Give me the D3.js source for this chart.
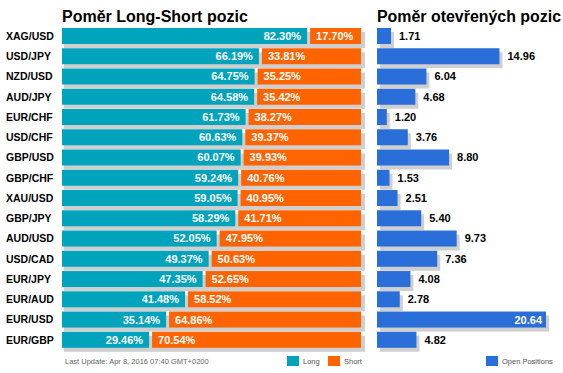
<!DOCTYPE html>
<html><head><meta charset="utf-8">
<script src="https://cdn.jsdelivr.net/npm/d3@7"></script>
<style>
html,body{margin:0;padding:0;background:#fff;}
text{font-family:"Liberation Sans",Arial,sans-serif;}
</style></head>
<body>
<svg id="c" width="563" height="373"></svg>
<script>
const pairs = ["XAG/USD","USD/JPY","NZD/USD","AUD/JPY","EUR/CHF","USD/CHF","GBP/USD","GBP/CHF","XAU/USD","GBP/JPY","AUD/USD","USD/CAD","EUR/JPY","EUR/AUD","EUR/USD","EUR/GBP"];
const longPct = [82.30,66.19,64.75,64.58,61.73,60.63,60.07,59.24,59.05,58.29,52.05,49.37,47.35,41.48,35.14,29.46];
const shortPct = [17.70,33.81,35.25,35.42,38.27,39.37,39.93,40.76,40.95,41.71,47.95,50.63,52.65,58.52,64.86,70.54];
const openPos = [1.71,14.96,6.04,4.68,1.20,3.76,8.80,1.53,2.51,5.40,9.73,7.36,4.08,2.78,20.64,4.82];
const title1 = "Poměr Long-Short pozic";
const title2 = "Poměr otevřených pozic";
const footer = "Last Update: Apr 8, 2016 07:40 GMT+0200";
const legendLS = ["Long","Short"];
const legendOP = "Open Positions";

const C = {long:"#00a3bc", short:"#ff6400", open:"#2a6fd9", shadow:"#cfcfcf"};
const svg = d3.select("#c");

const y = d3.scaleBand().domain(pairs).range([28, 348]).paddingInner(0.2).paddingOuter(0).align(0);
const bh = 16;
const x1 = d3.scaleLinear().domain([0,100]).range([62,361]);
const x2 = d3.scaleLinear().domain([0,20.64]).range([377,546]);

// titles
svg.append("text").attr("x",62).attr("y",22).attr("font-size",16).attr("font-weight","bold").attr("fill","#000").text(title1);
svg.append("text").attr("x",377).attr("y",22).attr("font-size",16).attr("font-weight","bold").attr("fill","#000")
  .attr("textLength",184).attr("lengthAdjust","spacingAndGlyphs").text(title2);

const rows = pairs.map((p,i)=>({p, l:longPct[i], s:shortPct[i], o:openPos[i]}));

// category labels
svg.selectAll(".cat").data(rows).join("text")
  .attr("x",6).attr("y",d=>y(d.p)+bh/2).attr("dy","0.36em")
  .attr("font-size",10.5).attr("font-weight","bold").attr("fill","#000").text(d=>d.p);

// left shadows
svg.selectAll(".sh1").data(rows).join("rect")
  .attr("x",x1(0)+2).attr("y",d=>y(d.p)+4).attr("width",x1(100)-x1(0)+2).attr("height",bh).attr("fill",C.shadow);
// long bars
svg.selectAll(".lb").data(rows).join("rect")
  .attr("x",x1(0)).attr("y",d=>y(d.p)).attr("width",d=>x1(d.l)-x1(0)-1).attr("height",bh).attr("fill",C.long);
// short bars
svg.selectAll(".sb").data(rows).join("rect")
  .attr("x",d=>x1(d.l)+2).attr("y",d=>y(d.p)).attr("width",d=>x1(100)-x1(d.l)-2).attr("height",bh).attr("fill",C.short);
// long labels
svg.selectAll(".ll").data(rows).join("text")
  .attr("x",d=>x1(d.l)-7).attr("y",d=>y(d.p)+bh/2).attr("dy","0.36em").attr("text-anchor","end")
  .attr("font-size",11).attr("font-weight","bold").attr("fill","#fff").text(d=>d.l.toFixed(2)+"%");
svg.selectAll(".sl").data(rows).join("text")
  .attr("x",d=>x1(d.l)+8).attr("y",d=>y(d.p)+bh/2).attr("dy","0.36em")
  .attr("font-size",11).attr("font-weight","bold").attr("fill","#fff").text(d=>d.s.toFixed(2)+"%");

// right chart
svg.selectAll(".sh2").data(rows).join("rect")
  .attr("x",x2(0)+3).attr("y",d=>y(d.p)+4).attr("width",d=>x2(d.o)-x2(0)).attr("height",bh).attr("fill",C.shadow);
svg.selectAll(".ob").data(rows).join("rect")
  .attr("x",x2(0)).attr("y",d=>y(d.p)).attr("width",d=>x2(d.o)-x2(0)).attr("height",bh).attr("fill",C.open);
svg.selectAll(".ol").data(rows).join("text")
  .each(function(d){
    const inside = x2(d.o) + 40 > 563;
    d3.select(this).attr("x", inside ? x2(d.o)-4 : x2(d.o)+8)
      .attr("text-anchor", inside ? "end":"start")
      .attr("fill", inside ? "#fff" : "#000");
  })
  .attr("y",d=>y(d.p)+bh/2).attr("dy","0.36em")
  .attr("font-size",11).attr("font-weight","bold").text(d=>d.o.toFixed(2));

// footer
svg.append("text").attr("x",65).attr("y",361).attr("dy","0.36em").attr("font-size",7.5).attr("fill","#666").text(footer);
const lg = [{t:legendLS[0],c:C.long,x:287},{t:legendLS[1],c:C.short,x:328},{t:legendOP,c:C.open,x:486}];
lg.forEach(g=>{
  svg.append("rect").attr("x",g.x).attr("y",356).attr("width",12).attr("height",10).attr("fill",g.c);
  svg.append("text").attr("x",g.x+16).attr("y",361).attr("dy","0.36em").attr("font-size",7.5).attr("fill","#555").text(g.t);
});
</script>
</body></html>
